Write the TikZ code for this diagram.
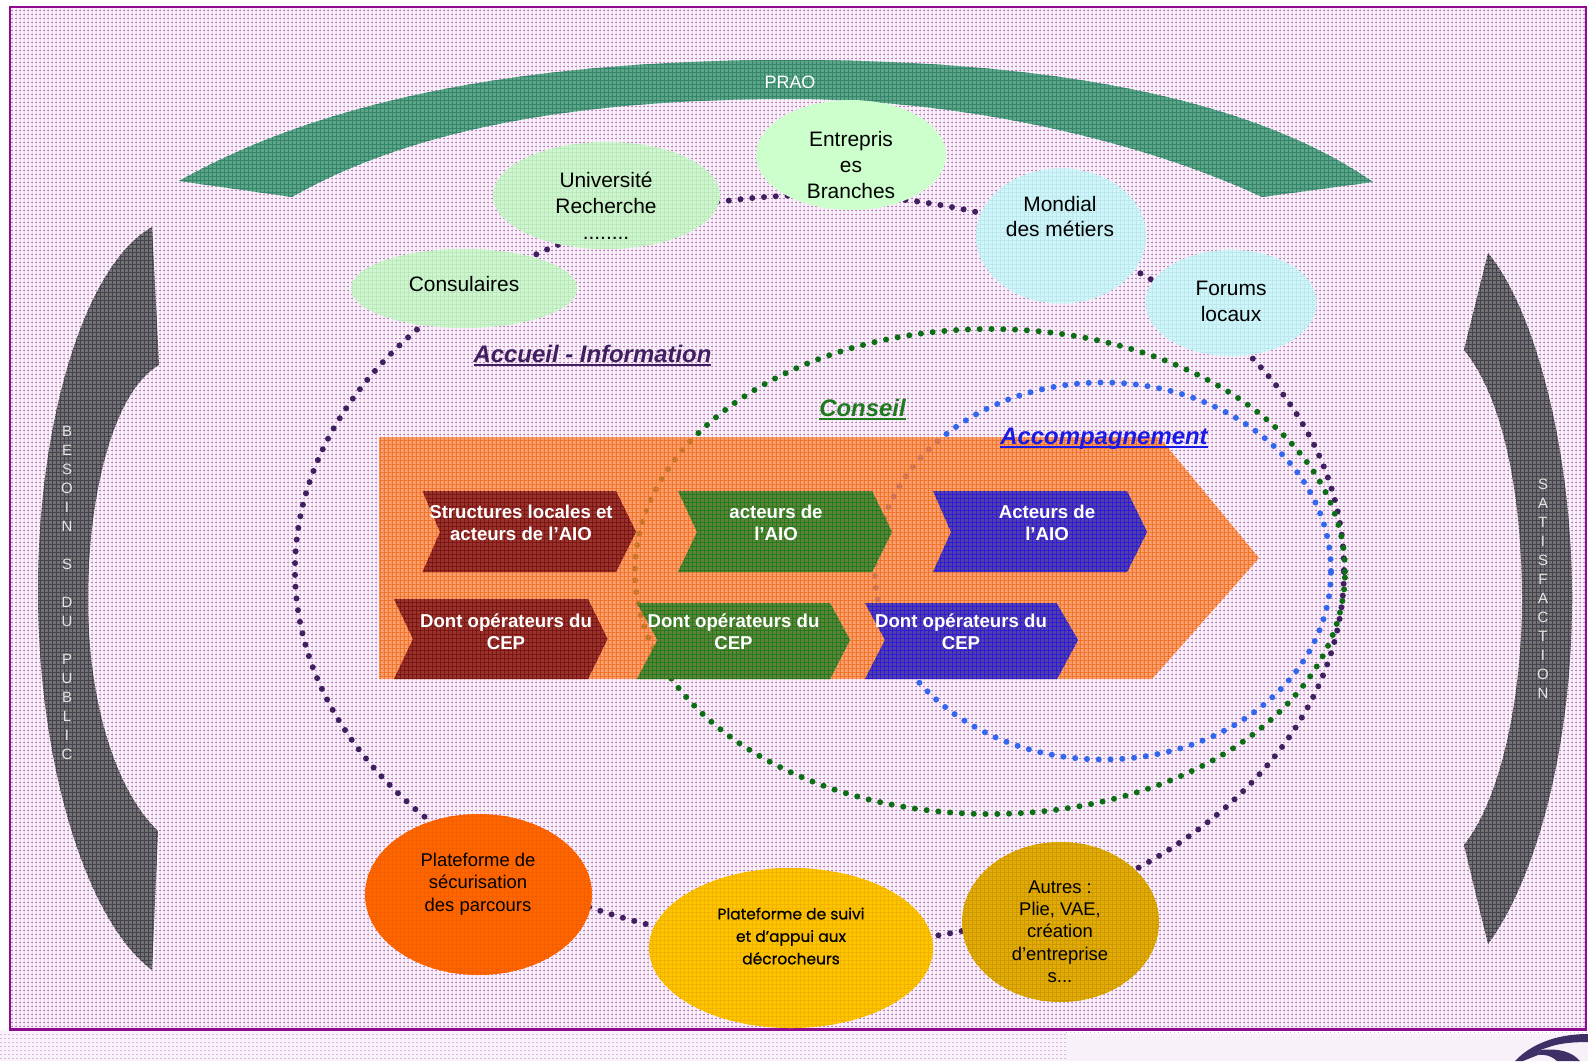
\documentclass[tikz,border=0pt]{standalone}
\usepackage{fontspec}
\setmainfont{Liberation Sans}
\newfontfamily\roundf[FakeBold=0.7]{Poppins}
\usetikzlibrary{shapes.geometric}
\definecolor{framec}{HTML}{8E0A8E}
\definecolor{bgbase}{HTML}{F9F1F9}
\definecolor{bgrow}{HTML}{BE7CBE}
\definecolor{bgcol}{HTML}{EBD6EB}
\definecolor{lowbase}{HTML}{FAF2FA}
\definecolor{lowrow}{HTML}{DDB4DD}
\definecolor{flatlow}{HTML}{F8F1F9}
\definecolor{logoc}{HTML}{3E2F66}
\definecolor{graya}{HTML}{727272}
\definecolor{grayb}{HTML}{45414E}
\definecolor{praoa}{HTML}{5CA588}
\definecolor{praob}{HTML}{35856A}
\definecolor{orangea}{HTML}{FF8438}
\definecolor{orangeb}{HTML}{EE6A1C}
\definecolor{reda}{HTML}{94302C}
\definecolor{redb}{HTML}{7C1414}
\definecolor{greena}{HTML}{558236}
\definecolor{greenb}{HTML}{237A1E}
\definecolor{bluea}{HTML}{4C3BAC}
\definecolor{blueb}{HTML}{2A1CD8}
\definecolor{lgreena}{HTML}{CFF7CF}
\definecolor{lgreenb}{HTML}{BDE8BD}
\definecolor{lgreenc}{HTML}{CCFFCC}
\definecolor{lcyana}{HTML}{CFF6FA}
\definecolor{lcyanb}{HTML}{BEE8EE}
\definecolor{secua}{HTML}{FF6600}
\definecolor{secub}{HTML}{F25E00}
\definecolor{suivia}{HTML}{FFC400}
\definecolor{suivib}{HTML}{F0B400}
\definecolor{autrea}{HTML}{E3AB08}
\definecolor{autreb}{HTML}{CC9A00}
\definecolor{dotp}{HTML}{3F1F5F}
\definecolor{dotg}{HTML}{0B6E14}
\definecolor{dotb}{HTML}{3366EE}
\definecolor{inka}{HTML}{3F1F5F}
\definecolor{inkb}{HTML}{1E7B1E}
\definecolor{inkc}{HTML}{1A1AE6}
\newsavebox\ulbox
\newcommand\thickul[1]{\sbox\ulbox{#1}\rlap{\rule[-3.4pt]{\wd\ulbox}{1.9pt}}\usebox\ulbox}
\tikzset{
  x=1bp,y=-1bp,
  ringnode/.style={ellipse,inner sep=0,outer sep=0,line cap=round,line width=6bp,dash pattern=on 0bp off 11.8bp},
  blobnode/.style={ellipse,inner sep=0,outer sep=0},
  bodytext/.style={inner sep=0,align=center,text=black,font=\fontsize{21}{26}\selectfont},
  smalltext/.style={inner sep=0,align=center,text=black,font=\fontsize{18.5}{22.4}\selectfont},
  chevtext/.style={inner sep=0,align=center,text=white,font=\bfseries\fontsize{18.7}{21.6}\selectfont},
  sidetext/.style={inner sep=0,align=center,text=white!90!black,font=\fontsize{15}{19.1}\selectfont},
  titletext/.style={inner sep=0,font=\bfseries\itshape\fontsize{24}{28}\selectfont}
}
% path, fill options, mesh colour, bbox x0 y0 x1 y1
\newcommand\meshfill[7]{%
  \fill[#2] #1;
  \begin{scope}
    \clip #1;
    \pgfmathtruncatemacro\mxb{#4+4}\pgfmathtruncatemacro\myb{#5+4}
    \draw[#3,line width=1bp] \foreach \mx in {#4,\mxb,...,#6} {(\mx+.5,#5)--(\mx+.5,#7)};
    \draw[#3,line width=1bp] \foreach \my in {#5,\myb,...,#7} {(#4,\my+.5)--(#6,\my+.5)};
  \end{scope}}
\begin{document}
\begin{tikzpicture}
\useasboundingbox (0,0) rectangle (1588,1061);
\fill[white] (0,0) rectangle (1588,1061);
% background weave
\fill[bgbase] (10,7) rectangle (1586,1030);
\draw[bgcol,line width=1bp] \foreach \mx in {12,16,...,1584} {(\mx+.5,8)--(\mx+.5,1029)};
\draw[bgrow,line width=1bp,dash pattern=on 2bp off 2bp] \foreach \my in {10,14,...,1028} {(11,\my+.5)--(1585,\my+.5)};
% lower strip
\fill[lowbase] (0,1030) rectangle (1066,1061);
\draw[lowrow,line width=1bp,dash pattern=on 2bp off 2bp] \foreach \my in {1034,1038,...,1060} {(0,\my+.5)--(1066,\my+.5)};
\fill[flatlow] (1066,1034) rectangle (1588,1061);
\draw[lowrow,line width=1bp,dash pattern=on 1bp off 3bp] (1066,1032.5) -- (1588,1032.5);
\draw[framec,line width=2.2bp] (10,7) rectangle (1586,1029.5);
% logo
\fill[logoc] (1515,1061) .. controls (1530,1045) and (1555,1034) .. (1588,1034) -- (1588,1042) .. controls (1575,1042) and (1562,1043) .. (1552,1046) -- (1540,1050) -- (1538,1055) -- (1523,1061) -- cycle;
\fill[logoc] (1540,1050) .. controls (1560,1048) and (1572,1052) .. (1580,1061) -- (1557,1061) .. controls (1552,1056) and (1545,1054) .. (1538,1055) -- cycle;
% PRAO band and side arrows
\meshfill{(179,181) .. controls (340,90) and (560,60) .. (790,60) .. controls (1020,60) and (1240,90) .. (1373,182) -- (1262,197) .. controls (1140,140) and (960,99) .. (790,99) .. controls (620,99) and (430,118) .. (292,197) -- cycle}{praoa}{praob}{176}{60}{1376}{200}
\meshfill{(152,227) .. controls (85,265) and (38,420) .. (38,591) .. controls (38,760) and (85,920) .. (152,970) -- (158,831) .. controls (115,790) and (88,700) .. (88,600) .. controls (88,490) and (115,390) .. (159,365) -- cycle}{graya}{grayb}{36}{224}{164}{972}
\meshfill{(1488,253) .. controls (1535,310) and (1572,450) .. (1572,598) .. controls (1572,750) and (1535,880) .. (1488,944) -- (1464,845) .. controls (1500,800) and (1522,700) .. (1522,600) .. controls (1522,500) and (1505,400) .. (1464,350) -- cycle}{graya}{grayb}{1460}{252}{1576}{948}
% dotted rings
\node[ringnode,draw=dotp,minimum width=1049bp,minimum height=750bp] (ringaccueil) at (819.5,570) {};
\node[ringnode,draw=dotb,minimum width=456bp,minimum height=377bp] (ringaccomp) at (1103,571) {};
\node[ringnode,draw=dotg,minimum width=710bp,minimum height=485bp] (ringconseil) at (990,571.5) {};
% orange arrow
\meshfill{(379,437) -- (1159,437) -- (1259,558) -- (1152,679) -- (379,679) -- cycle}{orangea,fill opacity=.72}{orangeb,opacity=.72}{376}{436}{1260}{680}
% chevrons
\meshfill{(422.5,491) -- (616,491) -- (636,532) -- (616,572) -- (422.5,572) -- (440,532) -- cycle}{reda,fill opacity=.95}{redb}{420}{490}{640}{574}
\meshfill{(678,491) -- (872,491) -- (892,532) -- (872,572) -- (678,572) -- (697,532) -- cycle}{greena,fill opacity=.93}{greenb}{676}{490}{896}{574}
\meshfill{(933,491) -- (1127,491) -- (1147,532) -- (1127,572) -- (933,572) -- (951,532) -- cycle}{bluea,fill opacity=.95}{blueb}{932}{490}{1148}{574}
\meshfill{(394,599) -- (588,599) -- (607.5,639) -- (588,679) -- (394,679) -- (413,639) -- cycle}{reda,fill opacity=.95}{redb}{392}{598}{608}{680}
\meshfill{(637,603) -- (830,603) -- (850,640) -- (830,679) -- (637,679) -- (657.5,640) -- cycle}{greena,fill opacity=.93}{greenb}{636}{602}{852}{680}
\meshfill{(865,603) -- (1056.5,603) -- (1078,640) -- (1057,679) -- (865,679) -- (885,640) -- cycle}{bluea,fill opacity=.95}{blueb}{864}{602}{1080}{680}
% blobs
\meshfill{(464,288.5) ellipse (113 and 39.5)}{lgreena}{lgreenb}{348}{248}{580}{330}
\node[blobnode,minimum width=226bp,minimum height=79bp] (consulaires) at (464,288.5) {};
\meshfill{(606.5,195.5) ellipse (113.5 and 53.5)}{lgreena}{lgreenb}{492}{140}{724}{252}
\node[blobnode,minimum width=227bp,minimum height=107bp] (universite) at (606.5,195.5) {};
\node[blobnode,fill=lgreenc,minimum width=190bp,minimum height=110bp] (entreprises) at (851,155) {};
\meshfill{(1061,236) ellipse (85 and 67.5)}{lcyana}{lcyanb}{976}{168}{1148}{304}
\node[blobnode,minimum width=170bp,minimum height=135bp] (mondial) at (1061,236) {};
\meshfill{(1231,303) ellipse (85.5 and 53)}{lcyana}{lcyanb}{1144}{248}{1320}{360}
\node[blobnode,minimum width=171bp,minimum height=106bp] (forums) at (1231,303) {};
\meshfill{(478.5,894.5) ellipse (113.5 and 80.5)}{secua}{secub}{364}{812}{596}{976}
\node[blobnode,minimum width=227bp,minimum height=161bp] (securisation) at (478.5,894.5) {};
\meshfill{(791,948) ellipse (142 and 80)}{suivia}{suivib}{648}{868}{936}{1032}
\node[blobnode,minimum width=284bp,minimum height=160bp] (suivi) at (791,948) {};
\meshfill{(1060.5,922) ellipse (98.5 and 80)}{autrea}{autreb}{960}{840}{1164}{1004}
\node[blobnode,minimum width=197bp,minimum height=160bp] (autres) at (1060.5,922) {};
% texts
\node[inner sep=0,text=white,font=\fontsize{18}{22}\selectfont] (praolabel) at (790,82) {PRAO};
\node[sidetext] (besoin) at (67,593) {B\\E\\S\\O\\I\\N\\~\\S\\~\\D\\U\\~\\P\\U\\B\\L\\I\\C};
\node[sidetext] (satisf) at (1543,588.5) {S\\A\\T\\I\\S\\F\\A\\C\\T\\I\\O\\N};
\node[bodytext] (consulairest) at (464,284) {Consulaires};
\node[bodytext] (universitet) at (606,206) {Université\\Recherche\\........};
\node[bodytext] (entrepriset) at (851,165) {Entrepris\\es\\Branches};
\node[bodytext] (mondialt) at (1060,216.5) {Mondial\\des métiers};
\node[bodytext] (forumst) at (1231,301) {Forums\\locaux};
\node[smalltext] (securisationt) at (478,884) {Plateforme de\\sécurisation\\des parcours};
\node[inner sep=0,align=center,text=black,font=\roundf\fontsize{15.5}{22.5}\selectfont] (suivit) at (791,936) {Plateforme de suivi\\et d’appui aux\\décrocheurs};
\node[smalltext] (autrest) at (1060,931.5) {Autres :\\Plie, VAE,\\création\\d’entreprise\\s...};
\node[chevtext] (chevrt) at (521,523) {Structures locales et\\acteurs de l’AIO};
\node[chevtext] (chevgt) at (776,523) {acteurs de\\l’AIO};
\node[chevtext] (chevbt) at (1047,523) {Acteurs de\\l’AIO};
\node[chevtext] (chevrb) at (506,631.5) {Dont opérateurs du\\CEP};
\node[chevtext] (chevgb) at (733.5,631.5) {Dont opérateurs du\\CEP};
\node[chevtext] (chevbb) at (961,631.5) {Dont opérateurs du\\CEP};
\node[titletext,text=inka] (accueil) at (592.5,355.5) {\thickul{Accueil - Information}};
\node[titletext,text=inkb] (conseil) at (862.5,410) {\thickul{Conseil}};
\node[titletext,text=inkc] (accompagnement) at (1104,438.5) {\thickul{Accompagnement}};
\end{tikzpicture}
\end{document}
